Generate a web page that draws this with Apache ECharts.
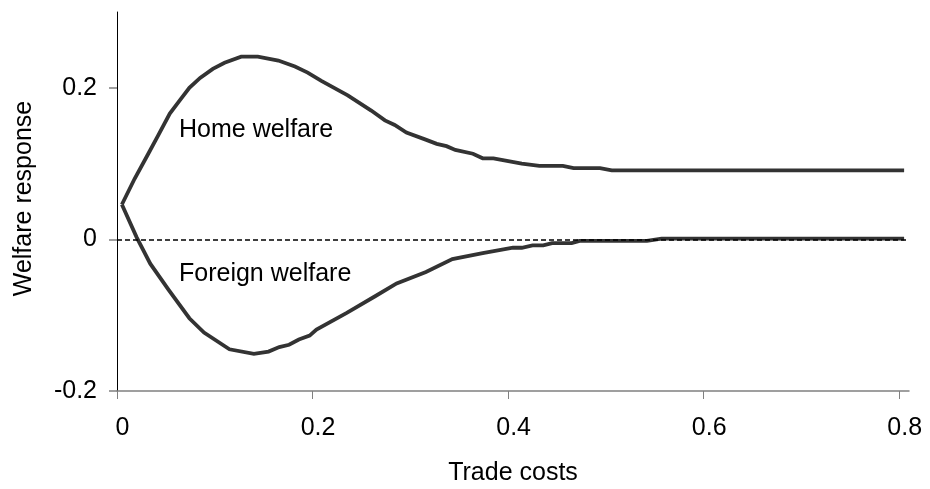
<!DOCTYPE html>
<html>
<head>
<meta charset="utf-8">
<script src="https://cdn.jsdelivr.net/npm/echarts@6/dist/echarts.min.js"></script>
<style>
html,body{margin:0;padding:0;background:#fff;}
#chart{width:930px;height:489px;}
</style>
</head>
<body>
<div id="chart"></div>
<script>
// Data
const homeX = [0.005,0.018,0.032,0.042,0.054,0.064,0.074,0.085,0.098,0.110,0.127,0.144,0.165,0.182,0.195,0.209,0.236,0.260,0.274,0.284,0.296,0.315,0.327,0.337,0.346,0.364,0.374,0.385,0.414,0.432,0.456,0.467,0.494,0.506,0.805];
const homeY = [0.046,0.080,0.113,0.137,0.166,0.183,0.200,0.213,0.225,0.233,0.241,0.241,0.236,0.228,0.220,0.209,0.190,0.170,0.157,0.151,0.141,0.132,0.126,0.123,0.118,0.113,0.107,0.107,0.100,0.097,0.097,0.094,0.094,0.091,0.091];
const foreignX = [0.005,0.020,0.034,0.053,0.074,0.089,0.115,0.140,0.155,0.166,0.176,0.186,0.197,0.204,0.235,0.264,0.286,0.316,0.343,0.374,0.405,0.414,0.425,0.436,0.445,0.465,0.473,0.542,0.557,0.805];
const foreignY = [0.046,0.003,-0.032,-0.067,-0.104,-0.123,-0.145,-0.151,-0.148,-0.142,-0.139,-0.132,-0.127,-0.119,-0.097,-0.075,-0.058,-0.043,-0.026,-0.018,-0.011,-0.011,-0.008,-0.008,-0.005,-0.005,-0.002,-0.002,0.001,0.001];
const xTicks = [0, 0.2, 0.4, 0.6, 0.8];
const yTicks = [-0.2, 0, 0.2];
const seriesNames = ['Home welfare', 'Foreign welfare'];
const xName = 'Trade costs';
const yName = 'Welfare response';

const FONT = 'Liberation Sans, Arial, sans-serif';
const zip = (xs, ys) => xs.map((x, i) => [x, ys[i]]);

const chart = echarts.init(document.getElementById('chart'), null, {renderer: 'canvas'});
const curveStyle = {color: '#333333', width: 3.8, join: 'miter', cap: 'butt'};

chart.setOption({
  animation: false,
  backgroundColor: '#ffffff',
  grid: {left: 117, right: 21, top: 12, bottom: 98, containLabel: false, outerBoundsMode: 'none'},
  xAxis: {
    type: 'value', min: 0, max: 0.81,
    name: xName, nameLocation: 'middle', nameGap: 70,
    nameTextStyle: {fontFamily: FONT, fontSize: 25, color: '#000'},
    axisLine: {onZero: false, lineStyle: {color: '#808080', width: 1.5}},
    axisTick: {show: true, length: 8, customValues: xTicks, lineStyle: {color: '#808080', width: 1}},
    axisLabel: {customValues: xTicks, margin: 25, fontFamily: FONT, fontSize: 25, color: '#000', padding: [0, 0, 0, 11]},
    splitLine: {show: false}
  },
  yAxis: {
    type: 'value', min: -0.2, max: 0.3,
    name: yName, nameLocation: 'middle', nameGap: 80,
    nameTextStyle: {fontFamily: FONT, fontSize: 25, color: '#000', padding: [0, 0, 0, 6]},
    axisLine: {show: true, onZero: false, lineStyle: {color: '#000', width: 1}},
    axisTick: {show: true, length: 8, customValues: yTicks, lineStyle: {color: '#808080', width: 1.5}},
    axisLabel: {customValues: yTicks, margin: 20, fontFamily: FONT, fontSize: 25, color: '#000'},
    splitLine: {show: false}
  },
  series: [
    {
      type: 'line', data: [], silent: true, z: 1,
      markLine: {
        silent: true, symbol: ['none', 'none'], label: {show: false},
        lineStyle: {color: '#000', width: 1.6, type: [5, 3]},
        data: [{yAxis: 0}]
      }
    },
    {
      name: seriesNames[0], type: 'line', data: zip(homeX, homeY), z: 3,
      showSymbol: false, smooth: false, lineStyle: curveStyle
    },
    {
      name: seriesNames[1], type: 'line', data: zip(foreignX, foreignY), z: 3,
      showSymbol: false, smooth: false, lineStyle: curveStyle
    }
  ],
  graphic: [
    {type: 'text', left: 179, top: 118, style: {text: seriesNames[0], font: '25px ' + FONT, fill: '#000'}},
    {type: 'text', left: 179, top: 262, style: {text: seriesNames[1], font: '25px ' + FONT, fill: '#000'}}
  ]
});
</script>
</body>
</html>
